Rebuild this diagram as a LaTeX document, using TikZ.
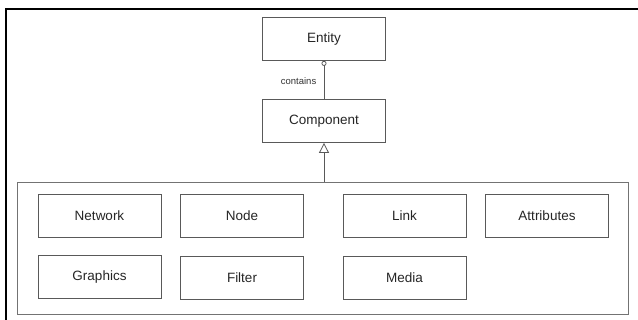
\documentclass[tikz,border=0pt]{standalone}
\usepackage{fontspec}
\setmainfont{Liberation Sans}
\usetikzlibrary{arrows.meta}
\begin{document}
\begin{tikzpicture}[x=1pt,y=-1pt,
  cls/.style={draw=black!65,line width=0.8pt,minimum width=123pt,minimum height=43pt,inner sep=0pt,font=\fontsize{13.5}{15}\selectfont,text=black!85},
  conn/.style={draw=black!65,line width=0.8pt}]
\useasboundingbox (0,0) rectangle (638,320);
\fill[white] (0,0) rectangle (638,320);
% page frame (partial)
\draw[black,line width=1.2pt] (6,320) -- (6,9) -- (638,9);
% nodes
\node[cls] (entity) at (324,39) {Entity};
\node[cls] (component) at (324,121) {Component};
\node[draw=black!55,line width=0.8pt,minimum width=611pt,minimum height=132pt,inner sep=0pt] (pkg) at (322.5,248) {};
\node[cls] (network) at (99.5,215.5) {Network};
\node[cls] (node) at (242,215.5) {Node};
\node[cls] (link) at (404.5,215.5) {Link};
\node[cls] (attr) at (547,215.5) {Attributes};
\node[cls] (graphics) at (99.5,277) {Graphics};
\node[cls] (filter) at (242,278) {Filter};
\node[cls] (media) at (404.5,278) {Media};
% connectors
\draw[conn,{Circle[open,length=5pt,width=5pt]}-] (entity.south) -- node[left,font=\fontsize{9.5}{11}\selectfont,text=black!80,xshift=-4pt,yshift=-1pt] {contains} (component.north);
\draw[conn,{Triangle[open,length=10pt,width=10pt]}-] (component.south) -- (component.south |- pkg.north);
\end{tikzpicture}
\end{document}
